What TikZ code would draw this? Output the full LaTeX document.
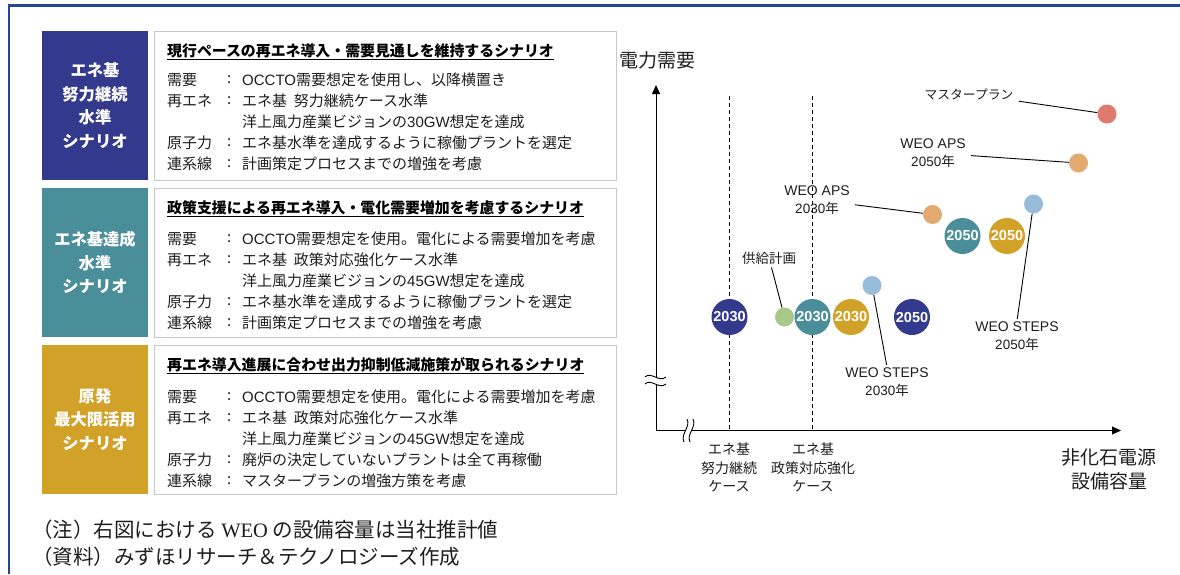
\documentclass[tikz,border=0pt]{standalone}
\usepackage{fontspec}
\setmainfont{Noto Sans CJK JP}
\newfontfamily\lat{Liberation Sans}
\newfontfamily\latser{Liberation Serif}
\usetikzlibrary{arrows.meta}
\definecolor{navy}{RGB}{51,57,140}
\definecolor{tealc}{RGB}{74,142,153}
\definecolor{goldc}{RGB}{210,161,40}
\definecolor{mpred}{RGB}{225,122,110}
\definecolor{apsor}{RGB}{226,170,110}
\definecolor{stblue}{RGB}{150,188,218}
\definecolor{kygreen}{RGB}{168,200,136}
\definecolor{framebl}{RGB}{35,70,150}
\definecolor{boxgray}{RGB}{200,200,200}
\definecolor{txt}{RGB}{30,30,30}
\tikzset{
  lbox/.style={inner sep=0, minimum width=106, minimum height=149, text=white,
    align=center, font=\fontsize{16.3}{23.5}\selectfont\bfseries},
  cbox/.style={draw=boxgray, line width=1, inner sep=0, minimum width=462, minimum height=149},
  body/.style={anchor=west, inner sep=0, text=txt, font=\fontsize{15}{16}\selectfont},
  ttl/.style={anchor=west, inner sep=0, text=black, font=\fontsize{14.9}{16}\selectfont\bfseries},
  bigc/.style={circle, minimum size=36, inner sep=0, text=white, font=\lat\fontsize{14.5}{14}\selectfont\bfseries},
  smc/.style={circle, minimum size=19, inner sep=0},
  chl/.style={align=center, inner sep=1, text=txt, font=\fontsize{13.5}{18}\selectfont},
  axl/.style={align=center, inner sep=0, text=txt, font=\fontsize{19}{24.5}\selectfont},
  xlab/.style={align=center, inner sep=0, text=txt, font=\fontsize{14}{18.5}\selectfont},
  leader/.style={draw=black, line width=0.9},
  axis/.style={draw=black, line width=1, -{Triangle[length=9,width=8]}},
  dline/.style={draw=black, line width=0.9, dash pattern=on 4 off 3},
  note/.style={anchor=west, inner sep=0, text=txt, font=\fontsize{20.5}{22}\selectfont}
}
\begin{document}
\begin{tikzpicture}[x=1pt,y=-1pt]
\useasboundingbox (0,0) rectangle (1180,574);
\fill[white] (0,0) rectangle (1180,574);
% frame
\draw[framebl, line width=2.4] (1180,5.5) -- (9,5.5) -- (9,574);

% ---- scenario 1
\node[lbox, fill=navy] (L1) at (95,105.5) {エネ基\\努力継続\\水準\\シナリオ};
\node[cbox] (C1) at (385,105.5) {};
\node[ttl] (T1) at (167,52) {\underline{現行ペースの再エネ導入・需要見通しを維持するシナリオ}};
\node[body] (a1k) at (167,80) {需要};
\node[body] (a1c) at (227,80) {:};
\node[body] (a1v) at (242,80) {{\lat OCCTO}需要想定を使用し、以降横置き};
\node[body] (a2k) at (167,101) {再エネ};
\node[body] (a2c) at (227,101) {:};
\node[body] (a2v) at (242,101) {エネ基\ \ 努力継続ケース水準};
\node[body] (a3v) at (242,122) {洋上風力産業ビジョンの{\lat 30GW}想定を達成};
\node[body] (a4k) at (167,143) {原子力};
\node[body] (a4c) at (227,143) {:};
\node[body] (a4v) at (242,143) {エネ基水準を達成するように稼働プラントを選定};
\node[body] (a5k) at (167,164) {連系線};
\node[body] (a5c) at (227,164) {:};
\node[body] (a5v) at (242,164) {計画策定プロセスまでの増強を考慮};

% ---- scenario 2
\node[lbox, fill=tealc] (L2) at (95,262.5) {エネ基達成\\水準\\シナリオ};
\node[cbox] (C2) at (385,262.5) {};
\node[ttl] (T2) at (167,209) {\underline{政策支援による再エネ導入・電化需要増加を考慮するシナリオ}};
\node[body] (b1k) at (167,239) {需要};
\node[body] (b1c) at (227,239) {:};
\node[body] (b1v) at (242,239) {{\lat OCCTO}需要想定を使用。電化による需要増加を考慮};
\node[body] (b2k) at (167,260) {再エネ};
\node[body] (b2c) at (227,260) {:};
\node[body] (b2v) at (242,260) {エネ基\ \ 政策対応強化ケース水準};
\node[body] (b3v) at (242,281) {洋上風力産業ビジョンの{\lat 45GW}想定を達成};
\node[body] (b4k) at (167,302) {原子力};
\node[body] (b4c) at (227,302) {:};
\node[body] (b4v) at (242,302) {エネ基水準を達成するように稼働プラントを選定};
\node[body] (b5k) at (167,323) {連系線};
\node[body] (b5c) at (227,323) {:};
\node[body] (b5v) at (242,323) {計画策定プロセスまでの増強を考慮};

% ---- scenario 3
\node[lbox, fill=goldc] (L3) at (95,419.5) {原発\\最大限活用\\シナリオ};
\node[cbox] (C3) at (385,419.5) {};
\node[ttl] (T3) at (167,366) {\underline{再エネ導入進展に合わせ出力抑制低減施策が取られるシナリオ}};
\node[body] (c1k) at (167,397) {需要};
\node[body] (c1c) at (227,397) {:};
\node[body] (c1v) at (242,397) {{\lat OCCTO}需要想定を使用。電化による需要増加を考慮};
\node[body] (c2k) at (167,418) {再エネ};
\node[body] (c2c) at (227,418) {:};
\node[body] (c2v) at (242,418) {エネ基\ \ 政策対応強化ケース水準};
\node[body] (c3v) at (242,439) {洋上風力産業ビジョンの{\lat 45GW}想定を達成};
\node[body] (c4k) at (167,460) {原子力};
\node[body] (c4c) at (227,460) {:};
\node[body] (c4v) at (242,460) {廃炉の決定していないプラントは全て再稼働};
\node[body] (c5k) at (167,481) {連系線};
\node[body] (c5c) at (227,481) {:};
\node[body] (c5v) at (242,481) {マスタープランの増強方策を考慮};

% ---- notes
\node[note] (n1) at (32,530) {（注）右図における {\latser WEO} の設備容量は当社推計値};
\node[note] (n2) at (32,557) {（資料）みずほリサーチ＆テクノロジーズ作成};

% ---- chart axes
\coordinate (O) at (656,430.5);
\coordinate (Ytop) at (656,85);
\coordinate (Xend) at (1121,430.5);
\draw[axis] (O) -- (Ytop);
\draw[axis] (O) -- (Xend);
% y break
\fill[white] (645,377) .. controls (651,371) and (659,383) .. (666,377) -- (666,384) .. controls (659,390) and (651,378) .. (645,384) -- cycle;
\draw[line width=0.9] (645,377) .. controls (651,371) and (659,383) .. (666,377);
\draw[line width=0.9] (645,384) .. controls (651,378) and (659,390) .. (666,384);
% x break
\fill[white] (684,442) .. controls (680,434) and (691,427) .. (687,419) -- (693,419) .. controls (697,427) and (686,434) .. (690,442) -- cycle;
\draw[line width=0.9] (684,442) .. controls (680,434) and (691,427) .. (687,419);
\draw[line width=0.9] (690,442) .. controls (686,434) and (697,427) .. (693,419);

\node[axl, anchor=west] (ylab) at (619,60) {電力需要};
\node[axl] (xlab1) at (1109,469.5) {非化石電源\\設備容量};

% dashed reference lines
\coordinate (d1t) at (729,96);
\coordinate (d1b) at (729,430.5);
\coordinate (d2t) at (812.5,96);
\coordinate (d2b) at (812.5,430.5);
\draw[dline] (d1t) -- (d1b);
\draw[dline] (d2t) -- (d2b);
\node[xlab] (xl1) at (729,467.5) {エネ基\\努力継続\\ケース};
\node[xlab] (xl2) at (813,467.5) {エネ基\\政策対応強化\\ケース};

% circles
\node[bigc, fill=navy] (e30) at (729.5,317) {2030};
\node[smc, fill=kygreen] (ky) at (784.5,317) {};
\node[bigc, fill=tealc] (t30) at (812.5,317) {2030};
\node[bigc, fill=goldc] (g30) at (851,317) {2030};
\node[smc, fill=stblue] (s30) at (872,285.5) {};
\node[bigc, fill=navy] (e50) at (912,317) {2050};
\node[smc, fill=apsor] (a30) at (932.5,214.5) {};
\node[bigc, fill=tealc] (t50) at (962.5,236) {2050};
\node[bigc, fill=goldc] (g50) at (1007,236) {2050};
\node[smc, fill=stblue] (s50) at (1033.5,204) {};
\node[smc, fill=apsor] (a50) at (1078.5,163) {};
\node[smc, fill=mpred] (mp) at (1107,114) {};

% labels
\node[chl, font=\fontsize{12.8}{18}\selectfont] (mpl) at (969,94) {マスタープラン};
\node[chl] (a50l) at (933,153) {{\lat\fontsize{14}{18}\selectfont WEO APS}\\{\lat 2050}年};
\node[chl] (a30l) at (817,200) {{\lat\fontsize{14}{18}\selectfont WEO APS}\\{\lat 2030}年};
\node[chl] (kyl) at (769,258) {供給計画};
\node[chl] (s30l) at (887,382.5) {{\lat\fontsize{14}{18}\selectfont WEO STEPS}\\{\lat 2030}年};
\node[chl] (s50l) at (1017,336.5) {{\lat\fontsize{14}{18}\selectfont WEO STEPS}\\{\lat 2050}年};

% leaders
\draw[leader, shorten <=4] (mpl) -- (mp);
\draw[leader, shorten <=4] (a50l) -- (a50);
\draw[leader, shorten <=4] (a30l) -- (a30);
\draw[leader, shorten <=2] (kyl) -- (ky);
\draw[leader, shorten <=2] (s30l.north) -- (s30);
\draw[leader, shorten <=2] (s50l.north) -- (s50);
\end{tikzpicture}
\end{document}
